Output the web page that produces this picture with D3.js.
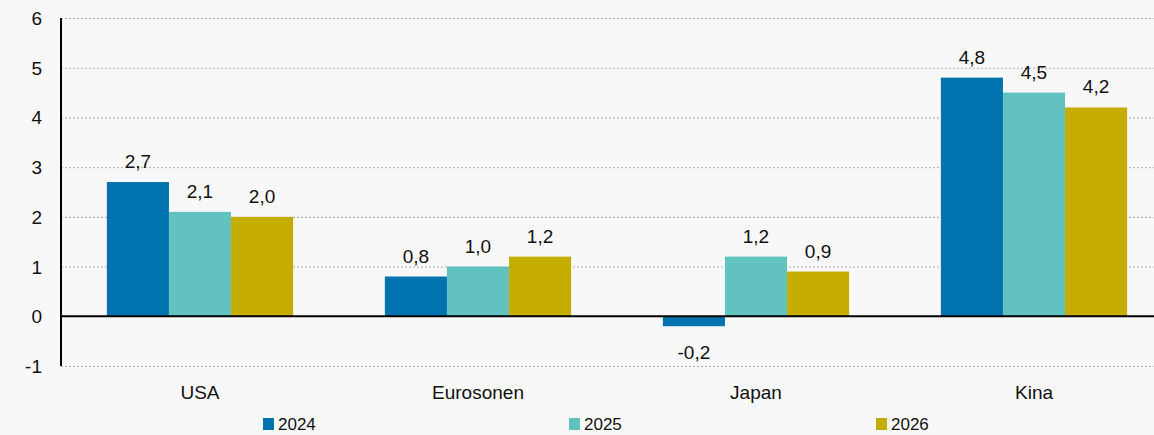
<!DOCTYPE html>
<html>
<head>
<meta charset="utf-8">
<script src="https://cdn.jsdelivr.net/npm/d3@7"></script>
<style>
  body { margin: 0; background: #f8f8f8; }
  svg { display: block; font-family: "Liberation Sans", Arial, sans-serif; }
</style>
</head>
<body>
<svg id="chart" width="1154" height="435"></svg>
<script>
// data
var categories = ['USA', 'Eurosonen', 'Japan', 'Kina'];
var years = ['2024', '2025', '2026'];
var v2024 = [2.7, 0.8, -0.2, 4.8];
var v2025 = [2.1, 1.0, 1.2, 4.5];
var v2026 = [2.0, 1.2, 0.9, 4.2];
var yTicks = [-1, 0, 1, 2, 3, 4, 5, 6];
var colors = ['#0073ae', '#62c2c0', '#c4ac00'];

var series = [v2024, v2025, v2026];
var rows = categories.map(function(c, i) {
  return { cat: c, vals: series.map(function(s) { return s[i]; }) };
});

var svg = d3.select('#chart');
var plotLeft = 61, plotTop = 18, plotBottom = 366;

var x0 = d3.scaleBand().domain(categories).range([plotLeft, plotLeft + 4 * 278]).paddingInner(0.33).paddingOuter(0.165);
var x1 = d3.scaleBand().domain(years).range([0, x0.bandwidth()]);
var y = d3.scaleLinear().domain([-1, 6]).range([plotBottom, plotTop]);

// gridlines
svg.append('g').selectAll('line').data(yTicks.filter(function(t) { return t !== 0; })).enter().append('line')
  .attr('x1', plotLeft).attr('x2', 1154)
  .attr('y1', function(d) { return y(d) + 0.5; })
  .attr('y2', function(d) { return y(d) + 0.5; })
  .attr('stroke', '#b3aaaa').attr('stroke-dasharray', '2,2').attr('stroke-width', 1);

// y tick labels
svg.append('g').selectAll('text').data(yTicks).enter().append('text')
  .attr('x', 42).attr('y', function(d) { return y(d) + 7; })
  .attr('text-anchor', 'end').attr('font-size', 19).attr('fill', '#111')
  .text(function(d) { return d; });

// bars
var groups = svg.append('g').selectAll('g').data(rows).enter().append('g')
  .attr('transform', function(d) { return 'translate(' + x0(d.cat) + ',0)'; });

groups.selectAll('rect').data(function(d) { return d.vals; }).enter().append('rect')
  .attr('x', function(d, i) { return x1(years[i]); })
  .attr('width', x1.bandwidth())
  .attr('y', function(d) { return y(Math.max(0, d)); })
  .attr('height', function(d) { return Math.abs(y(d) - y(0)); })
  .attr('fill', function(d, i) { return colors[i]; });

groups.selectAll('text').data(function(d) { return d.vals; }).enter().append('text')
  .attr('x', function(d, i) { return x1(years[i]) + x1.bandwidth() / 2; })
  .attr('y', function(d) { return d >= 0 ? y(d) - 14 : y(d) + 33; })
  .attr('text-anchor', 'middle').attr('font-size', 19).attr('fill', '#111')
  .text(function(d) { return d3.format('.1f')(d).replace('.', ',').replace('−', '-'); });

// zero line and y axis
svg.append('line').attr('x1', plotLeft).attr('x2', 1154).attr('y1', y(0)).attr('y2', y(0))
  .attr('stroke', '#000').attr('stroke-width', 2);
svg.append('line').attr('x1', plotLeft).attr('x2', plotLeft).attr('y1', plotTop).attr('y2', plotBottom)
  .attr('stroke', '#000').attr('stroke-width', 2);

// category labels
svg.append('g').selectAll('text').data(categories).enter().append('text')
  .attr('x', function(d) { return x0(d) + x0.bandwidth() / 2; })
  .attr('y', 399).attr('text-anchor', 'middle').attr('font-size', 19).attr('fill', '#111')
  .text(function(d) { return d; });

// legend
var legX = [263, 569, 876];
var leg = svg.append('g').selectAll('g').data(years).enter().append('g')
  .attr('transform', function(d, i) { return 'translate(' + legX[i] + ',418)'; });
leg.append('rect').attr('width', 11).attr('height', 12).attr('fill', function(d, i) { return colors[i]; });
leg.append('text').attr('x', 15).attr('y', 12).attr('font-size', 17).attr('fill', '#111')
  .text(function(d) { return d; });
</script>
</body>
</html>
